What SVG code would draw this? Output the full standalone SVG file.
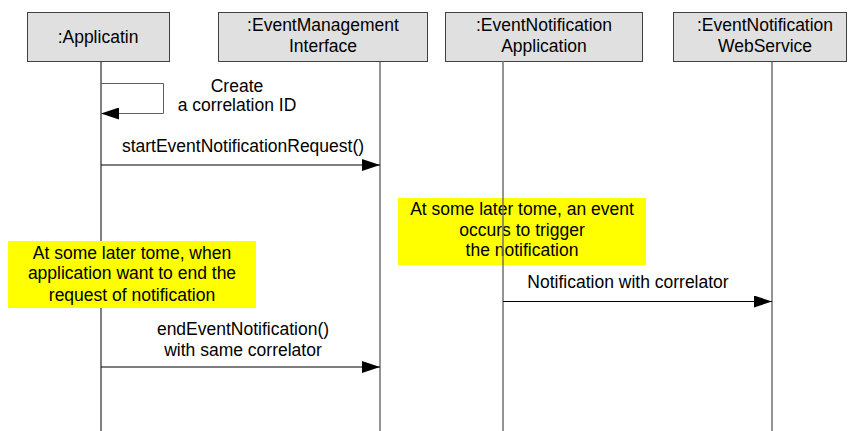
<svg xmlns="http://www.w3.org/2000/svg" width="848" height="431" viewBox="0 0 848 431">
<style>
text{font-family:"Liberation Sans",Arial,sans-serif;font-size:17.5px;fill:#000;text-anchor:middle}
.box{fill:#e0e0e0;stroke:#404040;stroke-width:1}
.life{stroke:#707070;stroke-width:1.5;fill:none}
.msg{stroke:#000;stroke-width:1;fill:none}
.note{fill:#ffff00}
</style>
<defs>
<marker id="ah" markerWidth="18" markerHeight="12" refX="18" refY="6" orient="auto" markerUnits="userSpaceOnUse">
<path d="M0,0 L18,6 L0,12 Z" fill="#000"/>
</marker>
</defs>
<g id="lifelines">
<line x1="101" y1="61" x2="101" y2="431" stroke="#000" stroke-width="1"/>
<line class="life" x1="380" y1="61" x2="380" y2="431"/>
<line class="life" x1="772" y1="61" x2="772" y2="431"/>
</g>
<g id="node-app">
<rect class="box" x="27.5" y="12.5" width="142" height="49"/>
<text x="98" y="43">:Applicatin</text>
</g>
<g id="node-emi">
<rect class="box" x="218.5" y="12.5" width="209" height="49"/>
<text x="323" y="31">:EventManagement</text>
<text x="323" y="52">Interface</text>
</g>
<g id="node-ena">
<rect class="box" x="445.5" y="12.5" width="197" height="49"/>
<text x="544" y="31">:EventNotification</text>
<text x="544" y="52">Application</text>
</g>
<g id="node-ws">
<rect class="box" x="673.5" y="12.5" width="173" height="49"/>
<text x="765" y="31">:EventNotification</text>
<text x="765" y="52">WebService</text>
</g>
<g id="note1">
<rect class="note" x="8" y="241" width="248" height="67"/>
<text x="132" y="259">At some later tome, when</text>
<text x="132" y="279">application want to end the</text>
<text x="132" y="301">request of notification</text>
</g>
<g id="note2">
<rect class="note" x="398" y="198" width="248" height="67"/>
<text x="522" y="215">At some later tome, an event</text>
<text x="522" y="236">occurs to trigger</text>
<text x="522" y="256">the notification</text>
</g>
<line class="life" x1="503" y1="61" x2="503" y2="431"/>
<g id="connectors">
<path d="M101,83.5 H163.5 V113.5 H101" fill="none" stroke="#606060" stroke-width="1" marker-end="url(#ah)"/>
<line class="msg" x1="101" y1="165" x2="380" y2="165" marker-end="url(#ah)"/>
<line class="msg" x1="101" y1="367" x2="380" y2="367" marker-end="url(#ah)"/>
<line class="msg" x1="503" y1="301.5" x2="772" y2="301.5" marker-end="url(#ah)"/>
</g>
<g id="labels">
<text x="237" y="92">Create</text>
<text x="237" y="111">a correlation ID</text>
<text x="243" y="152">startEventNotificationRequest()</text>
<text x="243" y="335">endEventNotification()</text>
<text x="243" y="356">with same correlator</text>
<text x="628" y="288">Notification with correlator</text>
</g>
</svg>
